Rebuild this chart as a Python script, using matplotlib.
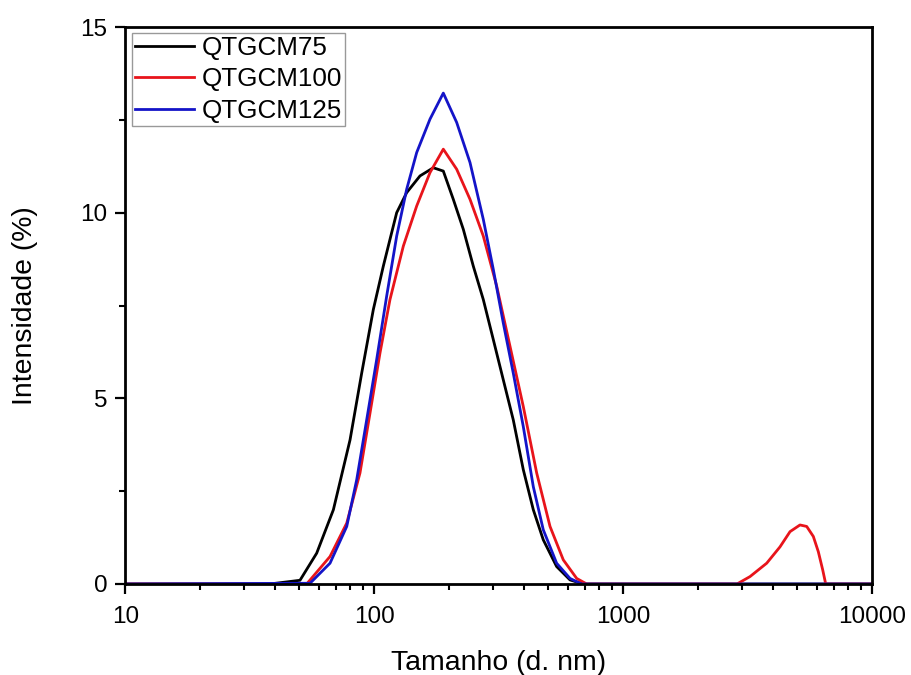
import matplotlib
matplotlib.use("Agg")
import matplotlib.pyplot as plt
from matplotlib.ticker import LogLocator, FixedLocator, NullFormatter, MultipleLocator

plt.rcParams['font.family'] = ['Liberation Sans', 'DejaVu Sans']

# Size (d. nm) and intensity (%)
size_75 = [10, 38, 50.3, 58.7, 68.5, 79.9, 89.0, 99.1, 108.7, 115.6, 123.0, 134.9,
           152.6, 172.6, 189.3, 207.6, 227.8, 249.8, 274.0, 300.6, 329.6, 361.5,
           396.6, 435.1, 477.1, 539.8, 610.9, 690.8, 10000]
int_75 = [0, 0, 0.1, 0.83, 2.0, 3.88, 5.68, 7.39, 8.56, 9.28, 10.0, 10.54,
          10.99, 11.21, 11.12, 10.36, 9.55, 8.56, 7.66, 6.58, 5.50, 4.42,
          3.08, 2.0, 1.19, 0.47, 0.11, 0, 0]

size_100 = [10, 53.5, 66.4, 77.5, 87.6, 96.1, 105.4, 115.6, 130.8, 148.0, 167.4,
            189.3, 214.2, 242.3, 274.0, 310.2, 350.8, 396.6, 448.9, 507.8, 574.1,
            649.9, 713, 2861, 3228, 3766, 4259, 4673, 5124, 5452, 5797, 6070,
            6322, 6500, 10000]
int_100 = [0, 0, 0.74, 1.64, 2.99, 4.6, 6.22, 7.66, 9.10, 10.18, 11.08,
           11.71, 11.17, 10.36, 9.37, 8.02, 6.40, 4.78, 2.99, 1.55, 0.65,
           0.15, 0, 0, 0.2, 0.56, 1.0, 1.41, 1.59, 1.55, 1.28, 0.87,
           0.38, 0, 0]

size_125 = [10, 55.2, 66.4, 77.5, 85.0, 93.2, 102.2, 112.1, 123.0, 134.9, 148.0,
            167.4, 189.3, 214.2, 242.3, 274.0, 300.6, 329.6, 361.5, 396.6, 435.1,
            477.1, 539.8, 610.9, 680, 10000]
int_125 = [0, 0.02, 0.56, 1.55, 2.81, 4.42, 6.04, 7.75, 9.37, 10.63, 11.62,
           12.52, 13.22, 12.43, 11.35, 9.82, 8.47, 7.03, 5.68, 4.24, 2.62,
           1.46, 0.56, 0.15, 0, 0]

labels = ['QTGCM75', 'QTGCM100', 'QTGCM125']
colors = ['#000000', '#e8141b', '#1414c8']

fig = plt.figure(figsize=(9.12, 6.75), dpi=100)
ax = fig.add_axes([125.3 / 912, 1 - 584 / 675, (872.3 - 125.3) / 912, (584 - 27) / 675])

for s, v, lab, c in zip([size_75, size_100, size_125], [int_75, int_100, int_125], labels, colors):
    ax.plot(s, v, color=c, lw=2.0, label=lab, solid_joinstyle='round')

ax.set_xscale('log')
ax.set_xlim(10, 10000)
ax.set_ylim(0, 15)
ax.xaxis.set_major_locator(FixedLocator([10, 100, 1000, 10000]))
ax.set_xticklabels(['10', '100', '1000', '10000'])
ax.xaxis.set_minor_locator(LogLocator(base=10, subs=range(2, 10)))
ax.xaxis.set_minor_formatter(NullFormatter())
ax.yaxis.set_major_locator(FixedLocator([0, 5, 10, 15]))
ax.yaxis.set_minor_locator(MultipleLocator(2.5))

for sp in ax.spines.values():
    sp.set_linewidth(2.0)
ax.tick_params(which='major', direction='out', length=7, width=1.6, labelsize=17.5, pad=6)
ax.tick_params(axis='x', which='major', pad=9)
ax.tick_params(which='minor', direction='out', length=4.3, width=1.5)
ax.tick_params(top=False, right=False, which='both')

ax.set_xlabel('Tamanho (d. nm)', fontsize=20.4, labelpad=16)
ax.set_ylabel('Intensidade (%)', fontsize=20.4, labelpad=30)

leg = ax.legend(loc='upper left', bbox_to_anchor=(132 / 912, 1 - 33 / 675),
                bbox_transform=fig.transFigure, fontsize=18.7,
                frameon=True, fancybox=False, edgecolor='#999999', framealpha=1,
                handlelength=2.3, handletextpad=0.3, labelspacing=0.3,
                borderpad=0.1, borderaxespad=0)
leg.get_frame().set_linewidth(1.0)

fig.savefig('out.png', dpi=100)
